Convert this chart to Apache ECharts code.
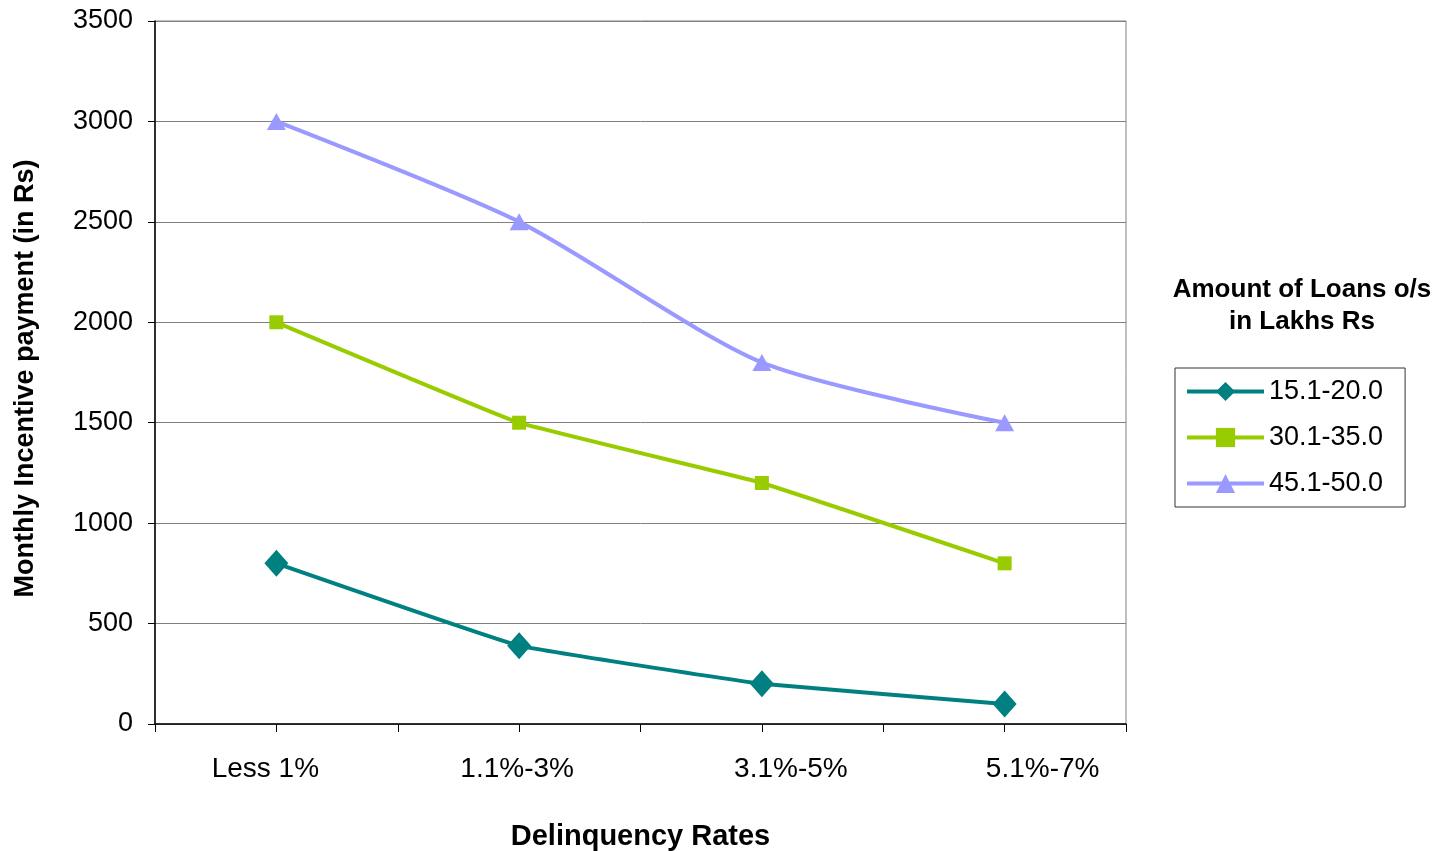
<!DOCTYPE html>
<html>
<head>
<meta charset="utf-8">
<script src="https://cdn.jsdelivr.net/npm/echarts@6/dist/echarts.min.js"></script>
<style>html,body{margin:0;padding:0;background:#fff;}#chart{width:1435px;height:851px;}</style>
</head>
<body>
<div id="chart"></div>
<script>
const categories = ['Less 1%', '1.1%-3%', '3.1%-5%', '5.1%-7%'];
const seriesNames = ['15.1-20.0', '30.1-35.0', '45.1-50.0'];
const loans15to20 = [800, 390, 200, 100];
const loans30to35 = [2000, 1500, 1200, 800];
const loans45to50 = [3000, 2500, 1800, 1500];
const yTicks = { min: 0, max: 3500, interval: 500 };

const FONT = 'Liberation Sans, Arial, sans-serif';
const labelPad = [[0, 22, 0, 0], [0, 4, 0, 0], [0, 0, 0, 58], [0, 0, 0, 76]];

const chart = echarts.init(document.getElementById('chart'));
chart.setOption({
  backgroundColor: '#fff',
  animation: false,
  title: {
    text: 'Amount of Loans o/s\nin Lakhs Rs',
    left: 1297, top: 269, textAlign: 'center',
    textStyle: { fontFamily: FONT, fontWeight: 'bold', fontSize: 26, lineHeight: 32, color: '#000' }
  },
  legend: {
    orient: 'vertical', left: 1175, top: 368,
    padding: [10, 22, 10, 10],
    itemWidth: 77, itemHeight: 24, itemGap: 19,
    borderColor: '#333', borderWidth: 1,
    lineStyle: { width: 4 },
    textStyle: { fontFamily: FONT, fontSize: 27, color: '#000' },
    data: seriesNames
  },
  grid: { left: 155, right: 309, top: 21, bottom: 127, show: true, borderColor: '#808080', borderWidth: 1,
    containLabel: false, outerBoundsMode: 'none' },
  xAxis: [{
    type: 'category',
    data: categories.map((c, i) => ({ value: c, textStyle: { padding: labelPad[i] } })),
    boundaryGap: true,
    axisLine: { lineStyle: { color: '#000', width: 1.5 } },
    axisTick: { show: true, alignWithLabel: false, length: 8, lineStyle: { color: '#000' } },
    axisLabel: { fontFamily: FONT, fontSize: 28, color: '#000', margin: 31 },
    name: 'Delinquency Rates', nameLocation: 'middle', nameGap: 98,
    nameTextStyle: { fontFamily: FONT, fontWeight: 'bold', fontSize: 29, color: '#000' }
  }, {
    type: 'category', data: categories, position: 'bottom', boundaryGap: true,
    axisLine: { show: false },
    axisTick: { show: true, alignWithLabel: true, length: 8, lineStyle: { color: '#000' } },
    axisLabel: { show: false }
  }],
  yAxis: {
    type: 'value', min: yTicks.min, max: yTicks.max, interval: yTicks.interval,
    axisLine: { show: true, lineStyle: { color: '#000', width: 1.5 } },
    axisTick: { show: true, length: 7, lineStyle: { color: '#000' } },
    axisLabel: { fontFamily: FONT, fontSize: 27, color: '#000', margin: 22, formatter: v => String(v) },
    splitLine: { show: true, lineStyle: { color: '#808080', width: 1 } },
    name: 'Monthly Incentive payment (in Rs)', nameLocation: 'middle', nameGap: 116,
    nameTextStyle: { fontFamily: FONT, fontWeight: 'bold', fontSize: 27, color: '#000', padding: [0, 12, 0, 0] }
  },
  series: [
    { name: seriesNames[0], type: 'line', data: loans15to20, smooth: 0.08,
      symbol: 'diamond', symbolSize: [24, 27],
      lineStyle: { color: '#008080', width: 4 }, itemStyle: { color: '#008080' } },
    { name: seriesNames[1], type: 'line', data: loans30to35, smooth: 0.08,
      symbol: 'rect', symbolSize: 14,
      lineStyle: { color: '#99CC00', width: 4 }, itemStyle: { color: '#99CC00' } },
    { name: seriesNames[2], type: 'line', data: loans45to50, smooth: 0.25,
      symbol: 'triangle', symbolSize: [19, 17],
      lineStyle: { color: '#9999FF', width: 4 }, itemStyle: { color: '#9999FF' } }
  ]
});
</script>
</body>
</html>
